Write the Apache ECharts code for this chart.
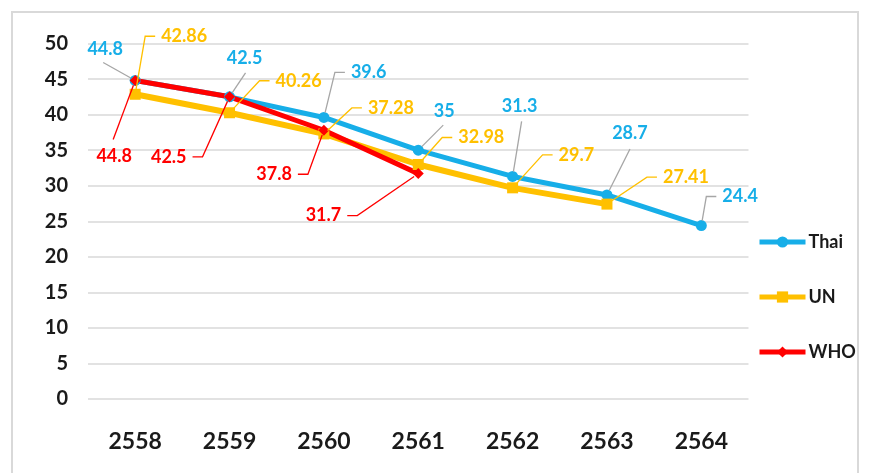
<!DOCTYPE html>
<html>
<head>
<meta charset="utf-8">
<script src="https://cdn.jsdelivr.net/npm/echarts@6/dist/echarts.min.js"></script>
<style>
  html, body { margin: 0; padding: 0; background: #fff; }
  #chart { width: 870px; height: 473px; }
</style>
</head>
<body>
<div id="chart"></div>
<script>
// Categories (Buddhist-era years) and series values
const years = ['2558', '2559', '2560', '2561', '2562', '2563', '2564'];
const thai = [44.8, 42.5, 39.6, 35, 31.3, 28.7, 24.4];
const un = [42.86, 40.26, 37.28, 32.98, 29.7, 27.41, null];
const who = [44.8, 42.5, 37.8, 31.7, null, null, null];

// Value axis range
const yMin = 0;
const yMax = 50;
const yStep = 5;

// Callout placement for each data label, in pixels relative to its point.
// 's': straight leader to [dx, dy], text centred at [tx, ty]
// 'r' / 'l': leader bends at [dx, dy], then a short horizontal run to text on the right / left
const thaiCallouts = [
  ['s', -32, -18, -30, -31],
  ['s', 16, -24, 15, -39],
  ['r', 11, -45],
  ['s', 25, -25, 26, -39],
  ['s', 9, -55, 7, -70],
  ['s', 23, -46, 23, -62],
  ['r', 5, -29]
];
const unCallouts = [
  ['r', 10, -58],
  ['r', 30, -32],
  ['r', 28, -26],
  ['r', 24, -27],
  ['r', 30, -33],
  ['r', 40, -27]
];
const whoCallouts = [
  ['s', -22, 59, -21, 76],
  ['l', -27, 60],
  ['l', -16, 44],
  ['l', -61, 42]
];

const BLUE = '#17AEE8';
const GOLD = '#FFC000';
const RED = '#FF0000';
const GREY_LEADER = '#A6A6A6';
const FONT = 'Lato, "Liberation Sans", sans-serif';

const SEG = 10;   // horizontal run of a bent leader
const GAP = 6;    // space between leader and text
const R = 5;      // leader starts at the marker edge

function calloutSeries(name, values, callouts, textColor, leaderColor) {
  const items = [];
  values.forEach(function (v, i) { if (v != null) items.push([i, v]); });
  return {
    name: name,
    type: 'custom',
    coordinateSystem: 'cartesian2d',
    clip: false,
    silent: true,
    z: 5,
    data: items,
    renderItem: function (params, api) {
      const i = api.value(0);
      const v = api.value(1);
      const p = api.coord([i, v]);
      const c = callouts[i];
      let pts, tx, ty, align;
      if (c[0] === 's') {
        pts = [[p[0] + c[1], p[1] + c[2]]];
        tx = p[0] + c[3];
        ty = p[1] + c[4];
        align = 'center';
      } else {
        const dir = c[0] === 'r' ? 1 : -1;
        const e = [p[0] + c[1], p[1] + c[2]];
        pts = [e, [e[0] + dir * SEG, e[1]]];
        tx = e[0] + dir * (SEG + GAP);
        ty = e[1];
        align = dir > 0 ? 'left' : 'right';
      }
      const f = pts[0];
      const dx = f[0] - p[0], dy = f[1] - p[1];
      const d = Math.hypot(dx, dy) || 1;
      const start = [p[0] + dx / d * R, p[1] + dy / d * R];
      return {
        type: 'group',
        children: [
          {
            type: 'polyline',
            shape: { points: [start].concat(pts) },
            style: { stroke: leaderColor, lineWidth: 1.3, fill: null }
          },
          {
            type: 'text',
            style: {
              text: String(v),
              x: tx,
              y: ty,
              align: align,
              verticalAlign: 'middle',
              fill: textColor,
              font: 'bold 18px ' + FONT
            }
          }
        ]
      };
    }
  };
}

const chart = echarts.init(document.getElementById('chart'), null, { renderer: 'canvas' });

chart.setOption({
  animation: false,
  backgroundColor: '#ffffff',
  graphic: [{
    type: 'rect',
    silent: true,
    z: -10,
    shape: { x: 12, y: 12, width: 846, height: 470 },
    style: { fill: null, stroke: '#D9D9D9', lineWidth: 2 }
  }],
  grid: { left: 88, right: 121.5, top: 43.5, bottom: 74, containLabel: false },
  legend: {
    data: ['Thai', 'UN', 'WHO'],
    orient: 'vertical',
    left: 752,
    top: 228,
    itemWidth: 46,
    itemHeight: 14,
    itemGap: 37,
    lineStyle: { width: 5 },
    textStyle: { fontFamily: FONT, fontWeight: 'bold', fontSize: 18, color: '#1a1a1a', lineHeight: 14, padding: [0, 0, 0, -2] }
  },
  xAxis: {
    type: 'category',
    data: years,
    boundaryGap: true,
    axisLine: { show: false },
    axisTick: { show: false },
    axisLabel: { margin: 31, fontFamily: FONT, fontWeight: 'bold', fontSize: 23, color: '#1a1a1a' },
    splitLine: { show: false }
  },
  yAxis: {
    type: 'value',
    min: yMin,
    max: yMax,
    interval: yStep,
    axisLine: { show: false },
    axisTick: { show: false },
    axisLabel: { margin: 20, fontFamily: FONT, fontWeight: 'bold', fontSize: 20, color: '#1a1a1a' },
    splitLine: { lineStyle: { color: '#D9D9D9', width: 1.6 } }
  },
  series: [
    {
      name: 'Thai',
      type: 'line',
      data: thai,
      symbol: 'circle',
      symbolSize: 11,
      lineStyle: { color: BLUE, width: 5 },
      itemStyle: { color: BLUE },
      z: 2
    },
    {
      name: 'UN',
      type: 'line',
      data: un,
      symbol: 'rect',
      symbolSize: 11,
      lineStyle: { color: GOLD, width: 6 },
      itemStyle: { color: GOLD },
      z: 2
    },
    {
      name: 'WHO',
      type: 'line',
      data: who,
      symbol: 'diamond',
      symbolSize: 11,
      lineStyle: { color: RED, width: 5 },
      itemStyle: { color: RED },
      z: 2
    },
    calloutSeries('Thai labels', thai, thaiCallouts, BLUE, GREY_LEADER),
    calloutSeries('UN labels', un, unCallouts, GOLD, GOLD),
    calloutSeries('WHO labels', who, whoCallouts, RED, RED)
  ]
});
</script>
</body>
</html>
